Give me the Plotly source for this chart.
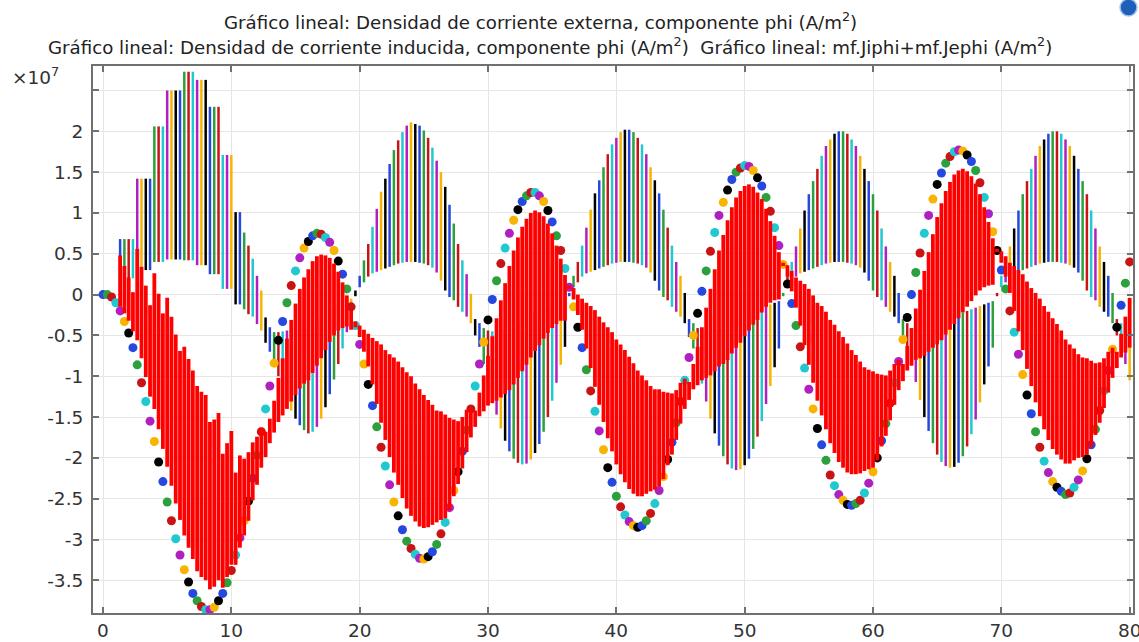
import plotly.graph_objects as go

# ---------------- data (values in units of 1e7 A/m^2) ----------------
n_edges = 241
x_step = 1.0 / 3.0
x_pos = [i * x_step for i in range(n_edges)]

# induced current density, phi component (one value per edge -> dots)
ji_phi = [
    0.00, 0.00, -0.03, -0.10, -0.20, -0.33, -0.47, -0.65, -0.86, -1.08,
    -1.31, -1.55, -1.80, -2.05, -2.29, -2.54, -2.77, -2.99, -3.19, -3.37,
    -3.52, -3.66, -3.75, -3.82, -3.86, -3.86, -3.83, -3.75, -3.66, -3.53,
    -3.38, -3.19, -2.98, -2.77, -2.53, -2.25, -1.97, -1.68, -1.40, -1.12,
    -0.84, -0.56, -0.33, -0.10, 0.11, 0.29, 0.45, 0.57, 0.65, 0.72,
    0.75, 0.74, 0.70, 0.64, 0.54, 0.41, 0.25, 0.07, -0.15, -0.38,
    -0.61, -0.85, -1.10, -1.36, -1.62, -1.87, -2.10, -2.33, -2.54, -2.71,
    -2.88, -3.02, -3.11, -3.18, -3.23, -3.24, -3.21, -3.15, -3.06, -2.93,
    -2.79, -2.61, -2.40, -2.17, -1.92, -1.66, -1.40, -1.12, -0.85, -0.58,
    -0.31, -0.06, 0.17, 0.38, 0.57, 0.75, 0.91, 1.04, 1.14, 1.21,
    1.25, 1.25, 1.21, 1.14, 1.03, 0.89, 0.72, 0.54, 0.32, 0.09,
    -0.15, -0.40, -0.65, -0.92, -1.18, -1.43, -1.67, -1.90, -2.12, -2.30,
    -2.47, -2.60, -2.70, -2.78, -2.83, -2.85, -2.83, -2.77, -2.68, -2.56,
    -2.40, -2.23, -2.02, -1.81, -1.57, -1.31, -1.05, -0.77, -0.50, -0.23,
    0.04, 0.29, 0.53, 0.76, 0.97, 1.13, 1.28, 1.41, 1.50, 1.55,
    1.58, 1.57, 1.52, 1.43, 1.33, 1.19, 1.02, 0.82, 0.60, 0.37,
    0.13, -0.11, -0.38, -0.64, -0.90, -1.16, -1.40, -1.64, -1.84, -2.03,
    -2.21, -2.34, -2.45, -2.52, -2.57, -2.58, -2.56, -2.52, -2.43, -2.31,
    -2.17, -2.00, -1.79, -1.58, -1.33, -1.08, -0.82, -0.55, -0.28, 0.00,
    0.27, 0.51, 0.75, 0.97, 1.17, 1.35, 1.49, 1.61, 1.69, 1.75,
    1.77, 1.76, 1.71, 1.63, 1.52, 1.37, 1.19, 0.99, 0.77, 0.54,
    0.30, 0.07, -0.20, -0.46, -0.73, -0.98, -1.23, -1.46, -1.68, -1.87,
    -2.04, -2.18, -2.29, -2.36, -2.41, -2.45, -2.43, -2.36, -2.27, -2.16,
    -2.01, -1.84, -1.65, -1.42, -1.18, -0.93, -0.67, -0.40, -0.13, 0.14,
    0.40,
]

# external current density, phi component: lower / upper end of each edge's segment
je_lo = [
    None, None, None, None, 0.05, 0.10, 0.15, 0.20, 0.30, 0.30,
    0.30, 0.30, 0.40, 0.40, 0.40, 0.43, 0.43, 0.43, 0.43, 0.42,
    0.42, 0.42, 0.36, 0.36, 0.36, 0.25, 0.25, 0.25, 0.07, 0.07,
    0.07, -0.12, -0.12, -0.18, -0.24, -0.27, -0.36, -0.44, -0.59, -0.70,
    -0.85, -1.00, -1.15, -1.30, -1.42, -1.52, -1.60, -1.66, -1.70, -1.68,
    -1.62, -1.52, -1.38, -1.22, -1.04, -0.85, -0.66, -0.46, -0.28, -0.02,
    0.09, 0.15, 0.22, 0.26, 0.28, 0.30, 0.32, 0.34, 0.36, 0.38,
    0.39, 0.40, 0.40, 0.40, 0.39, 0.38, 0.36, 0.33, 0.27, 0.17,
    0.05, -0.03, -0.07, -0.15, -0.21, -0.27, -0.35, -0.50, -0.64, -0.85,
    -1.05, -1.27, -1.47, -1.64, -1.79, -1.92, -2.01, -2.06, -2.08, -2.07,
    -2.02, -1.94, -1.83, -1.68, -1.50, -1.30, -1.08, -0.86, -0.64,
    -0.02, 0.09, 0.15, 0.22, 0.26, 0.28, 0.30, 0.32, 0.34, 0.36,
    0.38, 0.39, 0.40, 0.40, 0.40, 0.39, 0.38, 0.36, 0.33, 0.27,
    0.17, 0.05, -0.03, -0.07, -0.15, -0.21, -0.27, -0.35,
    -0.52, -0.66, -0.88, -1.09, -1.31, -1.52, -1.70, -1.85, -1.98, -2.08,
    -2.13, -2.15, -2.14, -2.09, -2.01, -1.89, -1.74, -1.55, -1.34, -1.12,
    -0.89, -0.66,
    -0.02, 0.09, 0.15, 0.22, 0.26, 0.28, 0.30, 0.32, 0.34, 0.36,
    0.38, 0.39, 0.40, 0.40, 0.40, 0.39, 0.38, 0.36, 0.33, 0.27,
    0.17, 0.05, -0.03, -0.07, -0.15, -0.21, -0.27, -0.35,
    -0.51, -0.65, -0.87, -1.07, -1.29, -1.50, -1.67, -1.82, -1.96, -2.05,
    -2.10, -2.12, -2.11, -2.06, -1.98, -1.86, -1.71, -1.53, -1.32, -1.10,
    -0.88, -0.65,
    -0.02, 0.09, 0.15, 0.22, 0.26, 0.28, 0.30, 0.32, 0.34, 0.36,
    0.38, 0.39, 0.40, 0.40, 0.40, 0.39, 0.38, 0.36, 0.33, 0.27,
    0.17, 0.05, -0.03, -0.07, -0.15, -0.21, -0.27, -0.35,
    -0.50, -0.64, -0.85, -1.05,
]

je_hi = [
    None, None, None, None, 0.68, 0.68, 0.68, 0.68, 1.42, 1.42,
    1.42, 1.42, 2.06, 2.06, 2.06, 2.50, 2.50, 2.50, 2.50, 2.73,
    2.73, 2.73, 2.63, 2.63, 2.63, 2.30, 2.30, 2.30, 1.71, 1.71,
    1.71, 1.01, 1.01, 0.76, 0.60, 0.44, 0.23, 0.05, -0.28, -0.40,
    -0.46, -0.46, -0.45, -0.44, -0.42, -0.40, -0.38, -0.36, -0.34, -0.31,
    -0.28, -0.25, -0.22, -0.19, -0.16, -0.13, -0.10, -0.08, -0.05, 0.05,
    0.23, 0.42, 0.62, 0.83, 1.05, 1.26, 1.42, 1.60, 1.77, 1.89,
    1.99, 2.07, 2.11, 2.09, 2.07, 2.01, 1.92, 1.80, 1.64, 1.50,
    1.32, 1.10, 0.87, 0.62, 0.42, 0.25, 0.01, -0.30, -0.35, -0.41,
    -0.44, -0.45, -0.46, -0.45, -0.43, -0.40, -0.37, -0.34, -0.31, -0.28,
    -0.25, -0.22, -0.20, -0.18, -0.16, -0.14, -0.12, -0.10, -0.08,
    0.02, 0.23, 0.40, 0.60, 0.82, 1.04, 1.24, 1.40, 1.56, 1.72,
    1.84, 1.92, 1.99, 2.02, 2.02, 1.99, 1.92, 1.84, 1.72, 1.56,
    1.40, 1.24, 1.04, 0.82, 0.60, 0.40, 0.23, 0.02,
    -0.30, -0.35, -0.41, -0.44, -0.45, -0.46, -0.45, -0.43, -0.40, -0.37,
    -0.34, -0.31, -0.28, -0.25, -0.22, -0.20, -0.18, -0.16, -0.14, -0.12,
    -0.10, -0.08,
    0.02, 0.23, 0.40, 0.59, 0.81, 1.03, 1.23, 1.39, 1.54, 1.70,
    1.82, 1.90, 1.97, 2.00, 2.00, 1.97, 1.90, 1.82, 1.70, 1.54,
    1.39, 1.23, 1.03, 0.81, 0.59, 0.40, 0.23, 0.02,
    -0.30, -0.35, -0.41, -0.44, -0.45, -0.46, -0.45, -0.43, -0.40, -0.37,
    -0.34, -0.31, -0.28, -0.25, -0.22, -0.20, -0.18, -0.16, -0.14, -0.12,
    -0.10, -0.08,
    0.02, 0.23, 0.40, 0.59, 0.81, 1.03, 1.23, 1.39, 1.54, 1.70,
    1.82, 1.90, 1.97, 2.00, 2.00, 1.97, 1.90, 1.82, 1.70, 1.54,
    1.39, 1.23, 1.03, 0.81, 0.59, 0.40, 0.23, 0.02,
    -0.30, -0.35, -0.41, -0.44,
]

je_first_edge = 4
cycle_colors = ["#2448e0", "#2ca03c", "#c81414", "#20c8d0", "#b020c0", "#f8b400", "#000000"]
sum_color = "#ff0000"

x_ticks = [0, 10, 20, 30, 40, 50, 60, 70, 80]
y_ticks = [-3.5, -3, -2.5, -2, -1.5, -1, -0.5, 0, 0.5, 1, 1.5, 2, 2.5]
y_ticktext = ["-3.5", "-3", "-2.5", "-2", "-1.5", "-1", "-0.5", "0", "0.5", "1", "1.5", "2", " "]

title_1 = "Gráfico lineal: Densidad de corriente externa, componente phi (A/m<sup>2</sup>)"
title_2 = ("Gráfico lineal: Densidad de corriente inducida, componente phi (A/m<sup>2</sup>)"
           "&nbsp;&nbsp;Gráfico lineal: mf.Jiphi+mf.Jephi (A/m<sup>2</sup>)")

# ---------------- figure ----------------
assert len(ji_phi) == n_edges and len(je_lo) == n_edges and len(je_hi) == n_edges

FONT = "DejaVu Sans"
fig = go.Figure()

# external current: one vertical segment per edge, colours cycling per edge
for k, col in enumerate(cycle_colors):
    xs, ys = [], []
    for i in range(n_edges):
        if je_lo[i] is None or (i - je_first_edge) % 7 != k:
            continue
        xs += [x_pos[i], x_pos[i], None]
        ys += [je_lo[i], je_hi[i], None]
    fig.add_trace(go.Scatter(x=xs, y=ys, mode="lines",
                             line=dict(color=col, width=2.5), hoverinfo="skip"))

# induced current: dots coloured by edge
fig.add_trace(go.Scatter(
    x=x_pos, y=ji_phi, mode="markers",
    marker=dict(size=9, color=[cycle_colors[i % 7] for i in range(n_edges)],
                line=dict(width=0)),
    hoverinfo="skip"))

# sum Ji + Je: red segments
xs, ys = [], []
for i in range(n_edges):
    if je_lo[i] is None:
        continue
    xs += [x_pos[i], x_pos[i], None]
    ys += [ji_phi[i] + je_lo[i], ji_phi[i] + je_hi[i], None]
fig.add_trace(go.Scatter(x=xs, y=ys, mode="lines",
                         line=dict(color=sum_color, width=3.8), hoverinfo="skip"))

axis_common = dict(
    showgrid=True, gridcolor="#e6e6e6", gridwidth=1, zeroline=False,
    showline=True, linecolor="#707070", linewidth=2, mirror="ticks",
    ticks="inside", ticklen=6, tickwidth=1.5, tickcolor="#707070",
    tickfont=dict(family=FONT, size=18.5, color="#333333"),
    ticklabeloverflow="allow",
)

fig.update_layout(
    width=1139, height=642,
    margin=dict(l=93, r=6, t=66, b=29, autoexpand=False),
    paper_bgcolor="white", plot_bgcolor="white",
    showlegend=False,
    xaxis=dict(range=[-0.78, 80.26], tickvals=x_ticks,
               ticktext=[str(v) for v in x_ticks], ticklabelstandoff=0, **axis_common),
    yaxis=dict(range=[-3.90, 2.80], tickvals=y_ticks, ticktext=y_ticktext,
               ticklabelstandoff=4, **axis_common),
)

PW, PH = 1040.0, 547.0
def px_x(p):
    return (p - 93.0) / PW
def px_y(p):
    return (613.0 - p) / PH

fig.add_annotation(x=px_x(540), y=px_y(21), xref="paper", yref="paper",
                   text=title_1, showarrow=False, xanchor="center", yanchor="middle",
                   font=dict(family=FONT, size=18.2, color="#222222"))
fig.add_annotation(x=px_x(550), y=px_y(46), xref="paper", yref="paper",
                   text=title_2, showarrow=False, xanchor="center", yanchor="middle",
                   font=dict(family=FONT, size=18.2, color="#222222"))
fig.add_annotation(x=px_x(10), y=px_y(76), xref="paper", yref="paper",
                   text="×10<sup>7</sup>", showarrow=False, xanchor="left", yanchor="middle",
                   font=dict(family=FONT, size=18.5, color="#333333"))

# small logo mark at top-right corner
fig.add_shape(type="circle", xref="paper", yref="paper",
              x0=px_x(1120), x1=px_x(1137), y0=px_y(16), y1=px_y(-1),
              fillcolor="#1f5fb8", line=dict(color="#9cc3ee", width=1.5))

fig.write_html(
    "out.html",
    config={"displayModeBar": False},
    post_script="document.body.style.margin='0px';document.body.style.padding='0px';"
                "document.body.style.overflow='hidden';",
)
